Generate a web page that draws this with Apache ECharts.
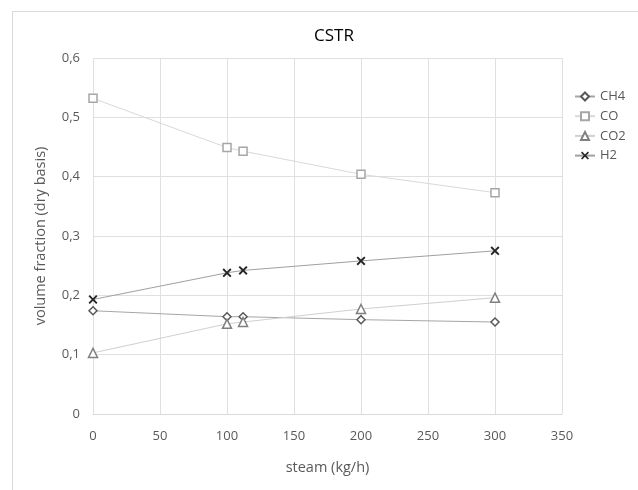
<!DOCTYPE html>
<html><head><meta charset="utf-8">
<script src="https://cdn.jsdelivr.net/npm/echarts@6/dist/echarts.min.js"></script>
<style>html,body{margin:0;padding:0;background:#fff}#c{width:638px;height:490px}</style>
</head><body><div id="c"></div>
<script>
const steam = [0, 100, 112, 200, 300];
const ch4 = [0.174, 0.164, 0.164, 0.159, 0.155];
const co = [0.532, 0.449, 0.443, 0.404, 0.373];
const co2 = [0.103, 0.152, 0.155, 0.177, 0.196];
const h2 = [0.193, 0.238, 0.242, 0.258, 0.275];
const seriesNames = ['CH4', 'CO', 'CO2', 'H2'];

const pair = arr => steam.map((x, i) => [x, arr[i]]);
const FONT = '"Open Sans", sans-serif';
const xPath = 'path://M0,1.5L1.5,0L5,3.5L8.5,0L10,1.5L6.5,5L10,8.5L8.5,10L5,6.5L1.5,10L0,8.5L3.5,5Z';

const chart = echarts.init(document.getElementById('c'));
chart.setOption({
  animation: false,
  backgroundColor: '#fff',
  graphic: [{type:'rect', shape:{x:12.5, y:11.5, width:700, height:600}, style:{fill:'none', stroke:'#d9d9d9', lineWidth:1}}],
  title: {text: 'CSTR', left: 329, top: 23, textAlign: 'center', textStyle: {fontFamily: FONT, fontSize: 17, fontWeight: 'normal', color: '#000'}},
  legend: {
    orient: 'vertical', left: 569, top: 85, itemWidth: 20, itemHeight: 10, itemGap: 6.7,
    textStyle: {fontFamily: FONT, fontSize: 13, color: '#595959'},
    data: seriesNames
  },
  grid: {left: 93, right: 76, top: 58, bottom: 76},
  xAxis: {
    type: 'value', min: 0, max: 350, interval: 50,
    name: 'steam (kg/h)', nameLocation: 'middle', nameGap: 46,
    nameTextStyle: {fontFamily: FONT, fontSize: 14.5, color: '#595959'},
    axisLine: {show: true, lineStyle: {color: '#d9d9d9'}}, axisTick: {show: false},
    axisLabel: {fontFamily: FONT, fontSize: 13, color: '#595959', margin: 16},
    splitLine: {show: true, lineStyle: {color: '#e0e0e0'}}
  },
  yAxis: {
    type: 'value', min: 0, max: 0.6, interval: 0.1,
    name: 'volume fraction (dry basis)', nameLocation: 'middle', nameGap: 45,
    nameTextStyle: {fontFamily: FONT, fontSize: 14.5, color: '#595959'},
    axisLine: {show: false}, axisTick: {show: false},
    axisLabel: {fontFamily: FONT, fontSize: 13, color: '#595959', margin: 13,
      formatter: v => (Math.round(v * 10) / 10).toString().replace('.', ',')},
    splitLine: {show: true, lineStyle: {color: '#e0e0e0'}}
  },
  series: [
    {name: 'CH4', type: 'line', data: pair(ch4), symbol: 'diamond', symbolSize: 8,
     lineStyle: {color: '#a6a6a6', width: 1}, itemStyle: {color: '#fff', borderColor: '#595959', borderWidth: 1.5}},
    {name: 'CO', type: 'line', data: pair(co), symbol: 'rect', symbolSize: 8,
     lineStyle: {color: '#d9d9d9', width: 1}, itemStyle: {color: '#fff', borderColor: '#a6a6a6', borderWidth: 1.5}},
    {name: 'CO2', type: 'line', data: pair(co2), symbol: 'triangle', symbolSize: 9,
     lineStyle: {color: '#d0d0d0', width: 1}, itemStyle: {color: '#fff', borderColor: '#7f7f7f', borderWidth: 1.5}},
    {name: 'H2', type: 'line', data: pair(h2), symbol: xPath, symbolSize: 9,
     lineStyle: {color: '#a0a0a0', width: 1}, itemStyle: {color: '#262626', borderWidth: 0}}
  ]
});
</script></body></html>
